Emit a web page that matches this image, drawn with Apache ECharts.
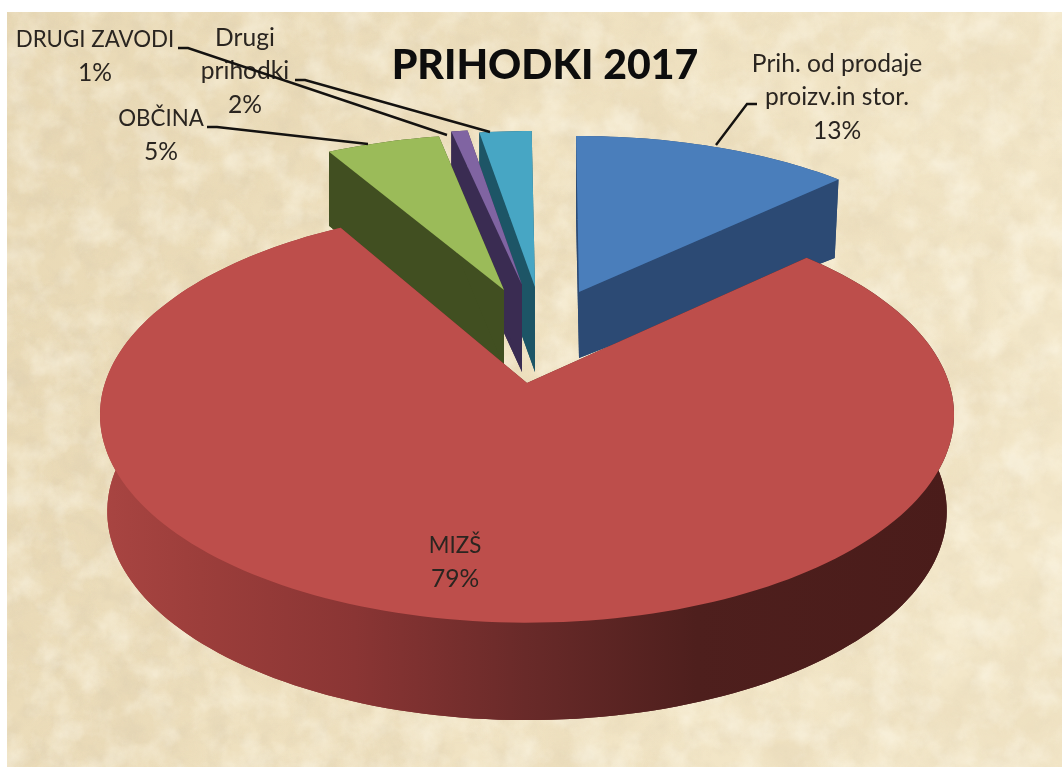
<!DOCTYPE html>
<html><head><meta charset="utf-8">
<style>
html,body{margin:0;padding:0;background:#fff;width:1062px;height:767px;overflow:hidden}
#bg{position:absolute;left:7px;top:12px;width:1055px;height:755px}
#main{position:absolute;left:0;top:0;width:1062px;height:767px}
</style>
<script src="https://cdn.jsdelivr.net/npm/echarts@6/dist/echarts.min.js"></script>
</head><body>
<svg id="bg" xmlns="http://www.w3.org/2000/svg">
  <defs>
    <filter id="paper" x="0" y="0" width="100%" height="100%">
      <feTurbulence type="fractalNoise" baseFrequency="0.012" numOctaves="3" seed="11"/>
      <feColorMatrix type="matrix" values="0 0 0 0 0.80  0 0 0 0 0.68  0 0 0 0 0.46  2.6 0 0 0 -1.05"/>
    </filter>
    <linearGradient id="tone" x1="0" y1="0" x2="1" y2="0.25">
      <stop offset="0" stop-color="#e8d8b4"/>
      <stop offset="0.5" stop-color="#efe1c0"/>
      <stop offset="1" stop-color="#f3e7c9"/>
    </linearGradient>
    <linearGradient id="fade" x1="0" y1="0" x2="1" y2="0">
      <stop offset="0" stop-color="#fff" stop-opacity="1"/>
      <stop offset="0.55" stop-color="#fff" stop-opacity="0.65"/>
      <stop offset="1" stop-color="#fff" stop-opacity="0.5"/>
    </linearGradient>
    <mask id="fadeMask"><rect width="100%" height="100%" fill="url(#fade)"/></mask>
    <filter id="paper2" x="0" y="0" width="100%" height="100%">
      <feTurbulence type="fractalNoise" baseFrequency="0.045" numOctaves="4" seed="4"/>
      <feColorMatrix type="matrix" values="0 0 0 0 0.72  0 0 0 0 0.62  0 0 0 0 0.44  0 2.2 0 0 -0.95"/>
    </filter>
    <filter id="paper3" x="0" y="0" width="100%" height="100%">
      <feTurbulence type="fractalNoise" baseFrequency="0.03" numOctaves="4" seed="23"/>
      <feColorMatrix type="matrix" values="0 0 0 0 1  0 0 0 0 0.97  0 0 0 0 0.86  0 0 2.4 0 -1.0"/>
    </filter>
  </defs>
  <rect width="100%" height="100%" fill="url(#tone)"/>
  <g mask="url(#fadeMask)">
    <rect width="100%" height="100%" filter="url(#paper)" opacity="0.75"/>
    <rect width="100%" height="100%" filter="url(#paper2)" opacity="0.5"/>
  </g>
  <rect width="100%" height="100%" filter="url(#paper3)" opacity="0.45"/>
</svg>
<div id="main"></div>
<script>
// ---- chart data ----
const categories = ['Prih. od prodaje\nproizv.in stor.', 'MIZŠ', 'OBČINA', 'DRUGI ZAVODI', 'Drugi\nprihodki'];
const values = [13.2, 78.6, 5.3, 0.7, 2.2];
const titleText = 'PRIHODKI 2017';

// ---- appearance: colours ----
const topColors = ['#4a7ebb', '#bd4e4b', '#9bbb59', '#8064a2', '#47a6c4'];
const wallColors = ['#2c4a74', null, '#414f21', '#3a2c52', '#1d5566'];
const redWall = [[0, '#a94542'], [0.12, '#9c3e3b'], [0.3, '#8a3534'], [0.5, '#692a29'], [0.7, '#4e1f1d'], [1, '#4a1c1a']];

// ---- layout: 3D projection of each slice (drawn back to front via z) ----
const START_DEG = -0.5;
const view = [
  {ax: 579, ay: 292, R: 406, Rk: 189, p: 0.212, D: 66, R2: 400, Rk2: 168, p2: 0.212, z: 1},
  {ax: 527, ay: 383, R: 422, Rk: 203, p: 0.153, D: 94, R2: 414, Rk2: 203, p2: 0.165, z: 5},
  {ax: 504, ay: 290, R: 414, Rk: 189, p: 0.212, D: 77, R2: 414, Rk2: 193, p2: 0.212, z: 4},
  {ax: 522, ay: 285, R: 450, Rk: 189, p: 0.212, D: 87, R2: 450, Rk2: 189, p2: 0.212, z: 3},
  {ax: 535, ay: 287, R: 460, Rk: 189, p: 0.212, D: 85, R2: 460, Rk2: 189, p2: 0.212, z: 2}
];
const labelAt = [[837, 64], [455, 546], [161, 119], [95, 40], [245, 38]];
const nameSize = [24.6, 22.3, 22.3, 22.3, 24.6];
const PCT_SIZE = 24.6;
const LINE_H = 33.5;
const leaders = [
  [[757, 104], [747, 104], [716, 145]],
  null,
  [[207, 127], [217, 127], [368, 144]],
  [[178, 48], [188, 48], [447, 135]],
  [[295, 80], [305, 80], [490, 132]]
];
const FONT = 'Lato, "Open Sans", sans-serif';
const TEXT_COLOR = '#2a2520';

const total = values.reduce((a, b) => a + b, 0);
const starts = [];
values.reduce((acc, v, i) => { starts[i] = acc; return acc + v / total * 360; }, START_DEG);

function project(v, th, bottom) {
  const R = bottom ? v.R2 : v.R, Rk = bottom ? v.Rk2 : v.Rk, p = bottom ? v.p2 : v.p;
  const t = th * Math.PI / 180, u = Math.sin(t), w = Math.cos(t), den = 1 + p * w;
  return [v.ax + R * u / den, v.ay + (bottom ? v.D : 0) - Rk * w / den];
}
function arc(v, a0, a1, bottom) {
  const n = Math.max(2, Math.ceil(Math.abs(a1 - a0) / 1.5)), pts = [];
  for (let i = 0; i <= n; i++) pts.push(project(v, a0 + (a1 - a0) * i / n, bottom));
  return pts;
}

function renderItem(params, api) {
  const i = params.dataIndex, v = view[i];
  const a0 = starts[i], a1 = a0 + api.value(0) / total * 360;
  const fill = wallColors[i] || {type: 'linear', x: 98, y: 0, x2: 953, y2: 0, global: true,
    colorStops: redWall.map(s => ({offset: s[0], color: s[1]}))};
  const topArc = arc(v, a0, a1, false), botArc = arc(v, a0, a1, true);
  const apexT = [v.ax, v.ay], apexB = [v.ax, v.ay + v.D];
  const poly = (pts, f, z2) => ({type: 'polygon', shape: {points: pts}, style: {fill: f}, z2, silent: true});
  const base = v.z * 10;
  const children = [
    poly([apexB].concat(botArc), fill, base),
    poly(topArc.concat(botArc.slice().reverse()), fill, base),
    poly([apexT, topArc[0], botArc[0], apexB], fill, base),
    poly([apexT, topArc[topArc.length - 1], botArc[botArc.length - 1], apexB], fill, base),
    poly([apexT].concat(topArc), topColors[i], base + 1)
  ];
  const pct = Math.round(api.value(0) / total * 100);
  const lines = categories[i].split('\n');
  children.push({type: 'text', z2: 100, silent: true, style: {
    x: labelAt[i][0], y: labelAt[i][1] - LINE_H / 2,
    text: categories[i],
    font: nameSize[i] + 'px ' + FONT, lineHeight: LINE_H,
    fill: TEXT_COLOR, align: 'center', verticalAlign: 'top'
  }});
  children.push({type: 'text', z2: 100, silent: true, style: {
    x: labelAt[i][0], y: labelAt[i][1] - LINE_H / 2 + lines.length * LINE_H,
    text: pct + '%',
    font: PCT_SIZE + 'px ' + FONT, lineHeight: LINE_H,
    fill: TEXT_COLOR, align: 'center', verticalAlign: 'top'
  }});
  if (leaders[i]) children.push({type: 'polyline', z2: 101, silent: true,
    shape: {points: leaders[i]}, style: {stroke: '#141210', lineWidth: 2.4, fill: 'none'}});
  return {type: 'group', children};
}

const chart = echarts.init(document.getElementById('main'), null, {renderer: 'canvas'});
chart.setOption({
  animation: false,
  backgroundColor: 'transparent',
  title: {text: titleText, left: 540, top: 40, textAlign: 'center',
    textStyle: {fontFamily: FONT, fontWeight: 900, fontSize: 41, color: '#0d0d0d'}},
  series: [{
    type: 'custom', coordinateSystem: 'none', clip: false, silent: true,
    renderItem,
    data: categories.map((c, i) => ({name: c, value: [values[i]]}))
  }]
});
</script>
</body></html>
